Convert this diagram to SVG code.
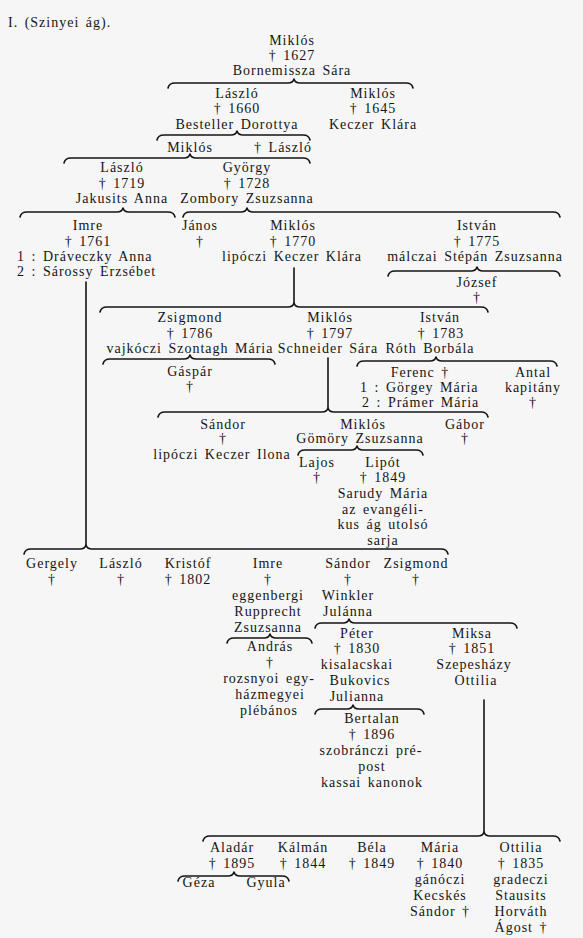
<svg xmlns="http://www.w3.org/2000/svg" width="583" height="938" viewBox="0 0 583 938">
<style>
text{font-family:"Liberation Serif","Times New Roman",serif;font-size:14px;fill:#151515;letter-spacing:1px;word-spacing:2px;text-anchor:middle}
.l{text-anchor:start}
.c path,.c line{fill:none;stroke:#151515;stroke-width:1.6;stroke-linecap:round;stroke-linejoin:round}
</style>
<rect width="583" height="938" fill="#f6f6f6"/>
<text class="l" x="8" y="27">I. (Szinyei ág).</text>
<g class="c" id="connectors">
<path d="M168 88 Q169 83 175 83 L288 83 Q293 83 294 79 Q295 83 300 83 L406 83 Q412 83 413 88"/>
<path d="M157 140 Q158 135 164 135 L231 135 Q236 135 237 131 Q238 135 243 135 L303 135 Q309 135 310 140"/>
<path d="M64 163 Q65 158 71 158 L184 158 Q189 158 190 154 Q191 158 196 158 L303 158 Q309 158 310 163"/>
<path d="M20 217 Q21 212 27 212 L117 212 Q122 212 123 208 Q124 212 129 212 L168 212 Q174 212 175 217"/>
<path d="M183 217 Q184 212 190 212 L241 212 Q246 212 247 208 Q248 212 253 212 L553 212 Q559 212 560 217"/>
<path d="M388 276 Q389 271 395 271 L471 271 Q476 271 477 267 Q478 271 483 271 L553 271 Q559 271 560 276"/>
<line x1="294" y1="268" x2="294" y2="303"/>
<path d="M100 312 Q101 307 107 307 L288 307 Q293 307 294 303 Q295 307 300 307 L481 307 Q487 307 488 312"/>
<path d="M103 364 Q104 359 110 359 L184 359 Q189 359 190 355 Q191 359 196 359 L268 359 Q274 359 275 364"/>
<path d="M357 366 Q358 361 364 361 L430 361 Q435 361 436 357 Q437 361 442 361 L550 361 Q556 361 557 366"/>
<line x1="328" y1="358" x2="328" y2="408"/>
<path d="M158 417 Q159 412 165 412 L322 412 Q327 412 328 408 Q329 412 334 412 L481 412 Q487 412 488 417"/>
<path d="M298 455 Q299 450 305 450 L351 450 Q356 450 357 446 Q358 450 363 450 L416 450 Q422 450 423 455"/>
<line x1="86" y1="282" x2="86" y2="545"/>
<path d="M24 554 Q25 549 31 549 L80 549 Q85 549 86 545 Q87 549 92 549 L441 549 Q447 549 448 554"/>
<path d="M315 628 Q316 623 322 623 L343 623 Q348 623 349 619 Q350 623 355 623 L510 623 Q516 623 517 628"/>
<path d="M227 643 Q228 638 234 638 L264 638 Q269 638 270 634 Q271 638 276 638 L305 638 Q311 638 312 643"/>
<path d="M315 714 Q316 709 322 709 L347 709 Q352 709 353 705 Q354 709 359 709 L417 709 Q423 709 424 714"/>
<line x1="484" y1="700" x2="484" y2="832"/>
<path d="M203 841 Q204 836 210 836 L478 836 Q483 836 484 832 Q485 836 490 836 L553 836 Q559 836 560 841"/>
<path d="M178 881 Q179 876 185 876 L228 876 Q233 876 234 872 Q235 876 240 876 L282 876 Q288 876 289 881"/>
</g>
<g id="n-miklos-1627"><text x="292" y="45">Miklós</text><text x="292" y="60">† 1627</text><text x="292" y="75">Bornemissza Sára</text></g>
<g id="n-laszlo-1660"><text x="237" y="98">László</text><text x="237" y="113">† 1660</text><text x="237" y="129">Besteller Dorottya</text></g>
<g id="n-miklos-1645"><text x="373" y="98">Miklós</text><text x="373" y="113">† 1645</text><text x="373" y="129">Keczer Klára</text></g>
<g id="n-miklos-c"><text x="190" y="152">Miklós</text></g>
<g id="n-laszlo-c"><text x="283" y="152">† László</text></g>
<g id="n-laszlo-1719"><text x="122" y="172">László</text><text x="122" y="188">† 1719</text><text x="122" y="203">Jakusits Anna</text></g>
<g id="n-gyorgy-1728"><text x="247" y="172">György</text><text x="247" y="188">† 1728</text><text x="247" y="203">Zombory Zsuzsanna</text></g>
<g id="n-imre-1761"><text x="88" y="230">Imre</text><text x="88" y="246">† 1761</text><text class="l" x="17" y="261">1 : Dráveczky Anna</text><text class="l" x="17" y="276">2 : Sárossy Erzsébet</text></g>
<g id="n-janos"><text x="200" y="230">János</text><text x="200" y="246">†</text></g>
<g id="n-miklos-1770"><text x="293" y="230">Miklós</text><text x="293" y="246">† 1770</text><text x="292" y="261">lipóczi Keczer Klára</text></g>
<g id="n-istvan-1775"><text x="477" y="230">István</text><text x="477" y="246">† 1775</text><text x="475" y="261">málczai Stépán Zsuzsanna</text></g>
<g id="n-jozsef"><text x="477" y="287">József</text><text x="477" y="302">†</text></g>
<g id="n-zsigmond-1786"><text x="190" y="322">Zsigmond</text><text x="190" y="338">† 1786</text><text x="190" y="353">vajkóczi Szontagh Mária</text></g>
<g id="n-miklos-1797"><text x="330" y="322">Miklós</text><text x="330" y="338">† 1797</text><text x="328" y="353">Schneider Sára</text></g>
<g id="n-istvan-1783"><text x="440" y="322">István</text><text x="441" y="338">† 1783</text><text x="430" y="353">Róth Borbála</text></g>
<g id="n-gaspar"><text x="190" y="376">Gáspár</text><text x="190" y="391">†</text></g>
<g id="n-ferenc"><text x="420" y="377">Ferenc †</text><text class="l" x="360" y="392">1 : Görgey Mária</text><text class="l" x="362" y="407">2 : Prámer Mária</text></g>
<g id="n-antal"><text x="533" y="377">Antal</text><text x="533" y="392">kapitány</text><text x="533" y="407">†</text></g>
<g id="n-sandor-h"><text x="223" y="429">Sándor</text><text x="223" y="443">†</text><text x="222" y="459">lipóczi Keczer Ilona</text></g>
<g id="n-miklos-h"><text x="363" y="429">Miklós</text><text x="360" y="443">Gömöry Zsuzsanna</text></g>
<g id="n-gabor"><text x="465" y="429">Gábor</text><text x="465" y="443">†</text></g>
<g id="n-lajos"><text x="317" y="467">Lajos</text><text x="317" y="482">†</text></g>
<g id="n-lipot"><text x="383" y="467">Lipót</text><text x="383" y="482">† 1849</text><text x="383" y="498">Sarudy Mária</text><text x="383" y="514">az evangéli-</text><text x="383" y="529">kus ág utolsó</text><text x="383" y="545">sarja</text></g>
<g id="n-gergely"><text x="52" y="568">Gergely</text><text x="52" y="584">†</text></g>
<g id="n-laszlo-j"><text x="121" y="568">László</text><text x="121" y="584">†</text></g>
<g id="n-kristof"><text x="188" y="568">Kristóf</text><text x="188" y="584">† 1802</text></g>
<g id="n-imre-j"><text x="268" y="568">Imre</text><text x="268" y="584">†</text><text x="268" y="600">eggenbergi</text><text x="268" y="616">Rupprecht</text><text x="268" y="632">Zsuzsanna</text></g>
<g id="n-sandor-j"><text x="348" y="568">Sándor</text><text x="348" y="584">†</text><text x="348" y="600">Winkler</text><text x="348" y="616">Julánna</text></g>
<g id="n-zsigmond-j"><text x="416" y="568">Zsigmond</text><text x="416" y="584">†</text></g>
<g id="n-andras"><text x="270" y="651">András</text><text x="270" y="667">†</text><text x="269" y="683">rozsnyoi egy-</text><text x="270" y="699">házmegyei</text><text x="269" y="715">plébános</text></g>
<g id="n-peter"><text x="357" y="638">Péter</text><text x="357" y="653">† 1830</text><text x="357" y="669">kisalacskai</text><text x="360" y="685">Bukovics</text><text x="357" y="701">Julianna</text></g>
<g id="n-miksa"><text x="472" y="638">Miksa</text><text x="472" y="653">† 1851</text><text x="474" y="669">Szepesházy</text><text x="476" y="685">Ottilia</text></g>
<g id="n-bertalan"><text x="372" y="723">Bertalan</text><text x="372" y="739">† 1896</text><text x="371" y="755">szobránczi pré-</text><text x="372" y="771">post</text><text x="372" y="787">kassai kanonok</text></g>
<g id="n-aladar"><text x="232" y="852">Aladár</text><text x="232" y="868">† 1895</text></g>
<g id="n-kalman"><text x="303" y="852">Kálmán</text><text x="303" y="868">† 1844</text></g>
<g id="n-bela"><text x="372" y="852">Béla</text><text x="372" y="868">† 1849</text></g>
<g id="n-maria"><text x="440" y="852">Mária</text><text x="440" y="868">† 1840</text><text x="440" y="884">gánóczi</text><text x="440" y="900">Kecskés</text><text x="440" y="916">Sándor †</text></g>
<g id="n-ottilia"><text x="521" y="852">Ottilia</text><text x="521" y="868">† 1835</text><text x="521" y="884">gradeczi</text><text x="521" y="900">Stausits</text><text x="521" y="916">Horváth</text><text x="521" y="932">Ágost †</text></g>
<g id="n-geza"><text x="199" y="887">Géza</text></g>
<g id="n-gyula"><text x="266" y="887">Gyula</text></g>
</svg>
